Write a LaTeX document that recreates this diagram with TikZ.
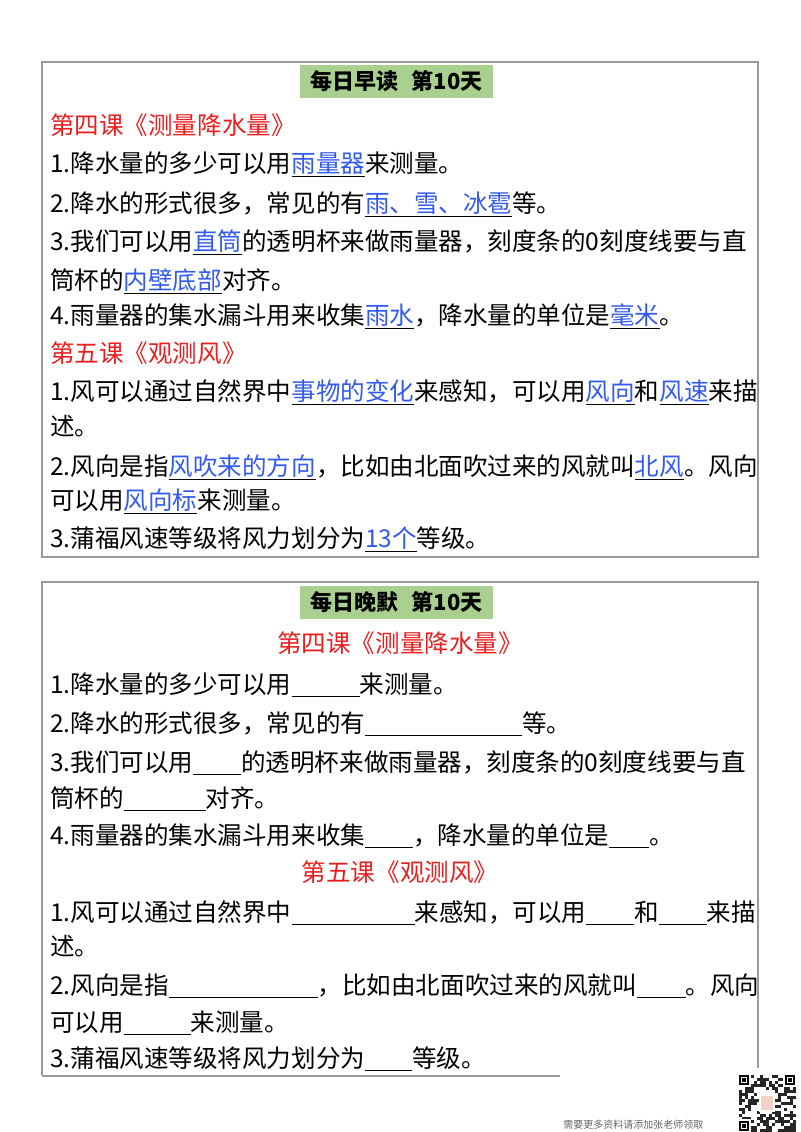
\documentclass[tikz,border=0pt]{standalone}
\usepackage{fontspec}
\setmainfont{Noto Sans CJK SC}
\usepackage{xcolor}
\definecolor{ansblue}{RGB}{50,90,240}
\definecolor{hdgreen}{RGB}{169,208,142}
\definecolor{redt}{RGB}{235,30,30}
\newcommand{\ans}[1]{\underline{\textcolor{ansblue}{#1}}}
\newcommand{\blk}[1]{\rule[-3pt]{#1\dimexpr0.75pt\relax}{0.6pt}}
\begin{document}
\begin{tikzpicture}[x=0.75pt,y=-0.75pt,
  txt/.style={anchor=base west,inner sep=0pt,font=\fontsize{18.4pt}{20pt}\selectfont},
  ttl/.style={anchor=base west,inner sep=0pt,text=redt,font=\fontsize{18.4pt}{20pt}\selectfont},
  ttlc/.style={anchor=base,inner sep=0pt,text=redt,font=\fontsize{18.4pt}{20pt}\selectfont},
  hdr/.style={fill=hdgreen,minimum width=193*0.75pt,minimum height=33*0.75pt,inner sep=0pt,font=\bfseries\fontsize{16.5pt}{18pt}\selectfont},
  frame/.style={draw=gray!80,line width=1pt}]
\useasboundingbox (0,0) rectangle (800,1132);
\draw[frame] (42,62) rectangle (758,557);
\node[hdr] (h1) at (396.5,81.5) {每日早读\hspace{0.6em}第10天};
\node[ttl] (a0) at (50,134) {第四课《测量降水量》};
\node[txt] (a1) at (50,172) {1.降水量的多少可以用\ans{雨量器}来测量。};
\node[txt] (a2) at (50,212) {2.降水的形式很多，常见的有\ans{雨、雪、冰雹}等。};
\node[txt] (a3) at (50,250) {3.我们可以用\ans{直筒}的透明杯来做雨量器，刻度条的0刻度线要与直};
\node[txt] (a4) at (50,289) {筒杯的\ans{内壁底部}对齐。};
\node[txt] (a5) at (50,324) {4.雨量器的集水漏斗用来收集\ans{雨水}，降水量的单位是\ans{毫米}。};
\node[ttl] (a6) at (50,362) {第五课《观测风》};
\node[txt] (a7) at (50,400) {1.风可以通过自然界中\ans{事物的变化}来感知，可以用\ans{风向}和\ans{风速}来描};
\node[txt] (a8) at (50,435) {述。};
\node[txt] (a9) at (50,475) {2.风向是指\ans{风吹来的方向}，比如由北面吹过来的风就叫\ans{北风}。风向};
\node[txt] (a10) at (50,509) {可以用\ans{风向标}来测量。};
\node[txt] (a11) at (50,547) {3.蒲福风速等级将风力划分为\ans{13个}等级。};
% bottom box
\draw[frame] (42,1075) -- (42,582) -- (758,582) -- (758,1068);
\draw[frame] (42,1076) -- (560,1076);
\node[hdr] (h2) at (396.5,602.5) {每日晚默\hspace{0.6em}第10天};
\node[ttlc] (b0) at (400,652) {第四课《测量降水量》};
\node[txt] (b1) at (50,693) {1.降水量的多少可以用\blk{68}来测量。};
\node[txt] (b2) at (50,732) {2.降水的形式很多，常见的有\blk{157}等。};
\node[txt] (b3) at (50,771) {3.我们可以用\blk{48}的透明杯来做雨量器，刻度条的0刻度线要与直};
\node[txt] (b4) at (50,807) {筒杯的\blk{82}对齐。};
\node[txt] (b5) at (50,844) {4.雨量器的集水漏斗用来收集\blk{48}，降水量的单位是\blk{40}。};
\node[ttlc] (b6) at (400,881) {第五课《观测风》};
\node[txt] (b7) at (50,921) {1.风可以通过自然界中\blk{123}来感知，可以用\blk{48}和\blk{48}来描};
\node[txt] (b8) at (50,955) {述。};
\node[txt] (b9) at (50,994) {2.风向是指\blk{149}，比如由北面吹过来的风就叫\blk{49}。风向};
\node[txt] (b10) at (50,1031) {可以用\blk{67}来测量。};
\node[txt] (b11) at (50,1067) {3.蒲福风速等级将风力划分为\blk{47}等级。};
% footer
\node[anchor=base west,inner sep=0pt,text=gray!80!black,font=\fontsize{7.5pt}{8pt}\selectfont] (ft) at (563,1128) {需要更多资料请添加张老师领取};
\node[fill=white,minimum size=58*0.75pt,inner sep=0pt] (qr) at (767,1103) {};
\pgfmathsetseed{7}
\foreach \i in {0,...,18}{\foreach \j in {0,...,18}{
  \pgfmathparse{rnd>0.5?1:0}
  \ifnum\pgfmathresult=1 \fill[black!85] (739+\i*3,1075+\j*3) rectangle ++(3,3);\fi}}
\foreach \p in {(744,1080),(790,1080),(744,1126)}{\fill[white] \p ++(-7,-7) rectangle ++(14,14); \fill[black] \p ++(-5,-5) rectangle ++(10,10); \fill[white] \p ++(-3,-3) rectangle ++(6,6); \fill[black] \p ++(-2,-2) rectangle ++(4,4);}
\fill[white] (759,1094) rectangle (775,1112);
\fill[pink!60!brown!50] (761,1096) rectangle (773,1110);
\end{tikzpicture}
\end{document}
